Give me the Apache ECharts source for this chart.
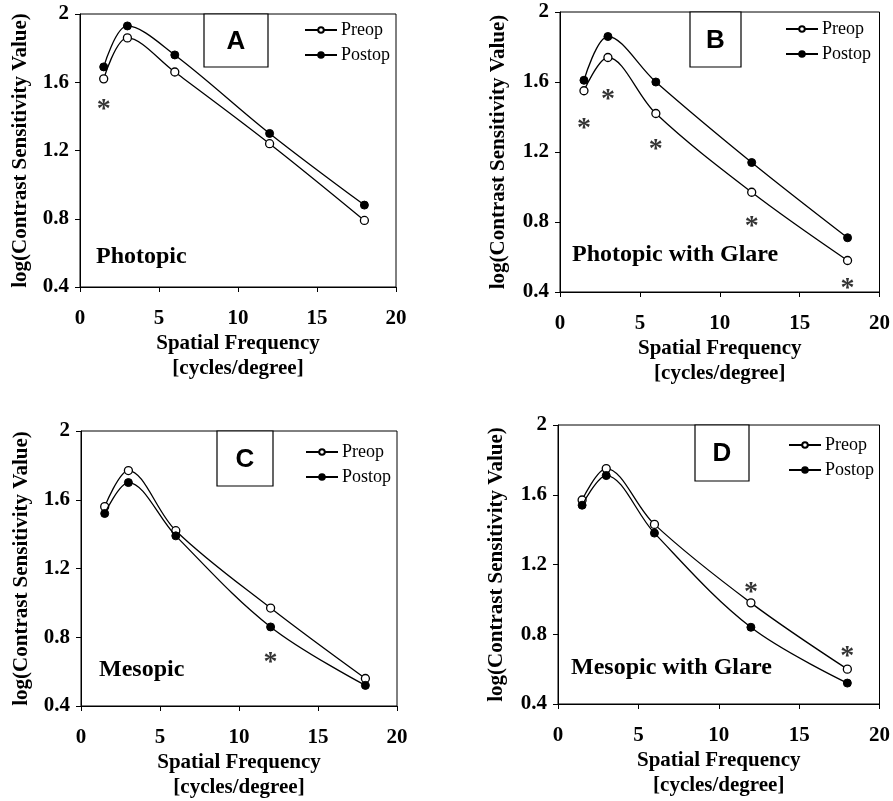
<!DOCTYPE html>
<html><head><meta charset="utf-8">
<script src="https://cdn.jsdelivr.net/npm/echarts@6/dist/echarts.min.js"></script>
<style>html,body{margin:0;padding:0;background:#fff}#c{width:893px;height:801px}</style>
</head><body><div id="c"></div>
<script>
// ---- data ----
const freq = [1.5, 3, 6, 12, 18];
const panelLetters = ['A', 'B', 'C', 'D'];
const panelTitles = ['Photopic', 'Photopic with Glare', 'Mesopic', 'Mesopic with Glare'];
const seriesNames = ['Preop', 'Postop'];
const preopA  = [1.62, 1.86, 1.66, 1.24, 0.79];
const postopA = [1.69, 1.93, 1.76, 1.30, 0.88];
const preopB  = [1.55, 1.74, 1.42, 0.97, 0.58];
const postopB = [1.61, 1.86, 1.60, 1.14, 0.71];
const preopC  = [1.56, 1.77, 1.42, 0.97, 0.56];
const postopC = [1.52, 1.70, 1.39, 0.86, 0.52];
const preopD  = [1.57, 1.75, 1.43, 0.98, 0.60];
const postopD = [1.54, 1.71, 1.38, 0.84, 0.52];
// significance asterisks [x, y]
const starsA = [[1.5, 1.48]];
const starsB = [[1.5, 1.37], [3, 1.54], [6, 1.25], [12, 0.81], [18, 0.46]];
const starsC = [[12, 0.69]];
const starsD = [[12, 1.08], [18, 0.71]];
const xTickValues = [0, 5, 10, 15, 20];
const yTickValues = [0.4, 0.8, 1.2, 1.6, 2];

// ---- layout ----
const grids = [
  {left: 80, top: 14, width: 316, height: 273},
  {left: 560, top: 12, width: 320, height: 280},
  {left: 81, top: 431, width: 316, height: 275},
  {left: 558, top: 425, width: 324, height: 279}
];
const letterBoxes = [
  {x: 204, y: 14, w: 64, h: 53},
  {x: 690, y: 12, w: 51, h: 55},
  {x: 217, y: 431, w: 56, h: 55},
  {x: 695, y: 425, w: 54, h: 56}
];
const titlePos = [
  {x: 96, y: 257}, {x: 572, y: 255}, {x: 99, y: 670}, {x: 571, y: 668}
];
const legendPos = [
  {left: 304, top: 21}, {left: 785, top: 20}, {left: 305, top: 443}, {left: 788, top: 436}
];

const preops = [preopA, preopB, preopC, preopD];
const postops = [postopA, postopB, postopC, postopD];
const stars = [starsA, starsB, starsC, starsD];

const SERIF = 'Liberation Serif';
const SANS = 'Liberation Sans';
const nameGaps = [49, 51, 49, 51];

const option = {
  backgroundColor: '#fff',
  animation: false,
  grid: grids.map(g => Object.assign({show: true, borderColor: '#000', borderWidth: 1, backgroundColor: 'transparent'}, g)),
  xAxis: grids.map((g, i) => ({
    type: 'value', gridIndex: i,
    min: xTickValues[0], max: xTickValues[xTickValues.length - 1], interval: 5,
    axisLine: {show: true, onZero: false, lineStyle: {color: '#000', width: 1}},
    axisTick: {show: true, length: 5, lineStyle: {color: '#000'}},
    splitLine: {show: false},
    axisLabel: {fontFamily: SERIF, fontWeight: 'bold', fontSize: 21, color: '#000', margin: 21},
    name: 'Spatial Frequency\n[cycles/degree]',
    nameLocation: 'middle', nameGap: 44,
    nameTextStyle: {fontFamily: SERIF, fontWeight: 'bold', fontSize: 21, color: '#000', lineHeight: 25}
  })),
  yAxis: grids.map((g, i) => ({
    type: 'value', gridIndex: i,
    min: yTickValues[0], max: yTickValues[yTickValues.length - 1], interval: 0.4,
    axisLine: {show: true, onZero: false, lineStyle: {color: '#000', width: 1}},
    axisTick: {show: true, length: 5, lineStyle: {color: '#000'}},
    splitLine: {show: false},
    axisLabel: {fontFamily: SERIF, fontWeight: 'bold', fontSize: 21, color: '#000', margin: 11},
    name: 'log(Contrast Sensitivity Value)',
    nameLocation: 'middle', nameGap: nameGaps[i],
    nameTextStyle: {fontFamily: SERIF, fontWeight: 'bold', fontSize: 21, color: '#000'}
  })),
  legend: legendPos.map(p => ({
    data: seriesNames, orient: 'vertical', left: p.left, top: p.top, padding: 0,
    itemWidth: 32, itemHeight: 7, itemGap: 7,
    textStyle: {fontFamily: SERIF, fontSize: 18, color: '#000', padding: [0, 0, 0, -1]},
    selectedMode: false
  })),
  series: [],
  graphic: []
};

for (let i = 0; i < 4; i++) {
  option.series.push({
    name: seriesNames[0], type: 'line', xAxisIndex: i, yAxisIndex: i,
    data: freq.map((f, k) => [f, preops[i][k]]),
    smooth: 0.35, symbol: 'circle', symbolSize: 8, z: 3,
    lineStyle: {color: '#000', width: 1.3},
    itemStyle: {color: '#fff', borderColor: '#000', borderWidth: 1.3}
  });
  option.series.push({
    name: seriesNames[1], type: 'line', xAxisIndex: i, yAxisIndex: i,
    data: freq.map((f, k) => [f, postops[i][k]]),
    smooth: 0.35, symbol: 'circle', symbolSize: 8, z: 4,
    lineStyle: {color: '#000', width: 1.3},
    itemStyle: {color: '#000', borderColor: '#000', borderWidth: 1}
  });
  option.series.push({
    name: 'sig', type: 'scatter', xAxisIndex: i, yAxisIndex: i,
    data: stars[i], symbolSize: 1, itemStyle: {color: 'rgba(0,0,0,0)'},
    label: {show: true, formatter: '*', position: 'inside', offset: [0, 7],
      fontFamily: SERIF, fontWeight: 'bold', fontSize: 28, color: '#000'},
    silent: true
  });
  const b = letterBoxes[i];
  option.graphic.push({
    type: 'rect', shape: {x: b.x, y: b.y, width: b.w, height: b.h},
    style: {fill: '#fff', stroke: '#000', lineWidth: 1.2}, z: 10
  });
  option.graphic.push({
    type: 'text', x: b.x + b.w / 2, y: b.y + b.h / 2 + 1,
    style: {text: panelLetters[i], fontFamily: SANS, fontWeight: 'bold', fontSize: 26,
      fill: '#000', align: 'center', verticalAlign: 'middle'}, z: 11
  });
  const t = titlePos[i];
  option.graphic.push({
    type: 'text', x: t.x, y: t.y,
    style: {text: panelTitles[i], fontFamily: SERIF, fontWeight: 'bold', fontSize: 24,
      fill: '#000', align: 'left', verticalAlign: 'middle'}, z: 11
  });
}

const chart = echarts.init(document.getElementById('c'), null, {renderer: 'canvas'});
chart.setOption(option);
</script>
</body></html>
